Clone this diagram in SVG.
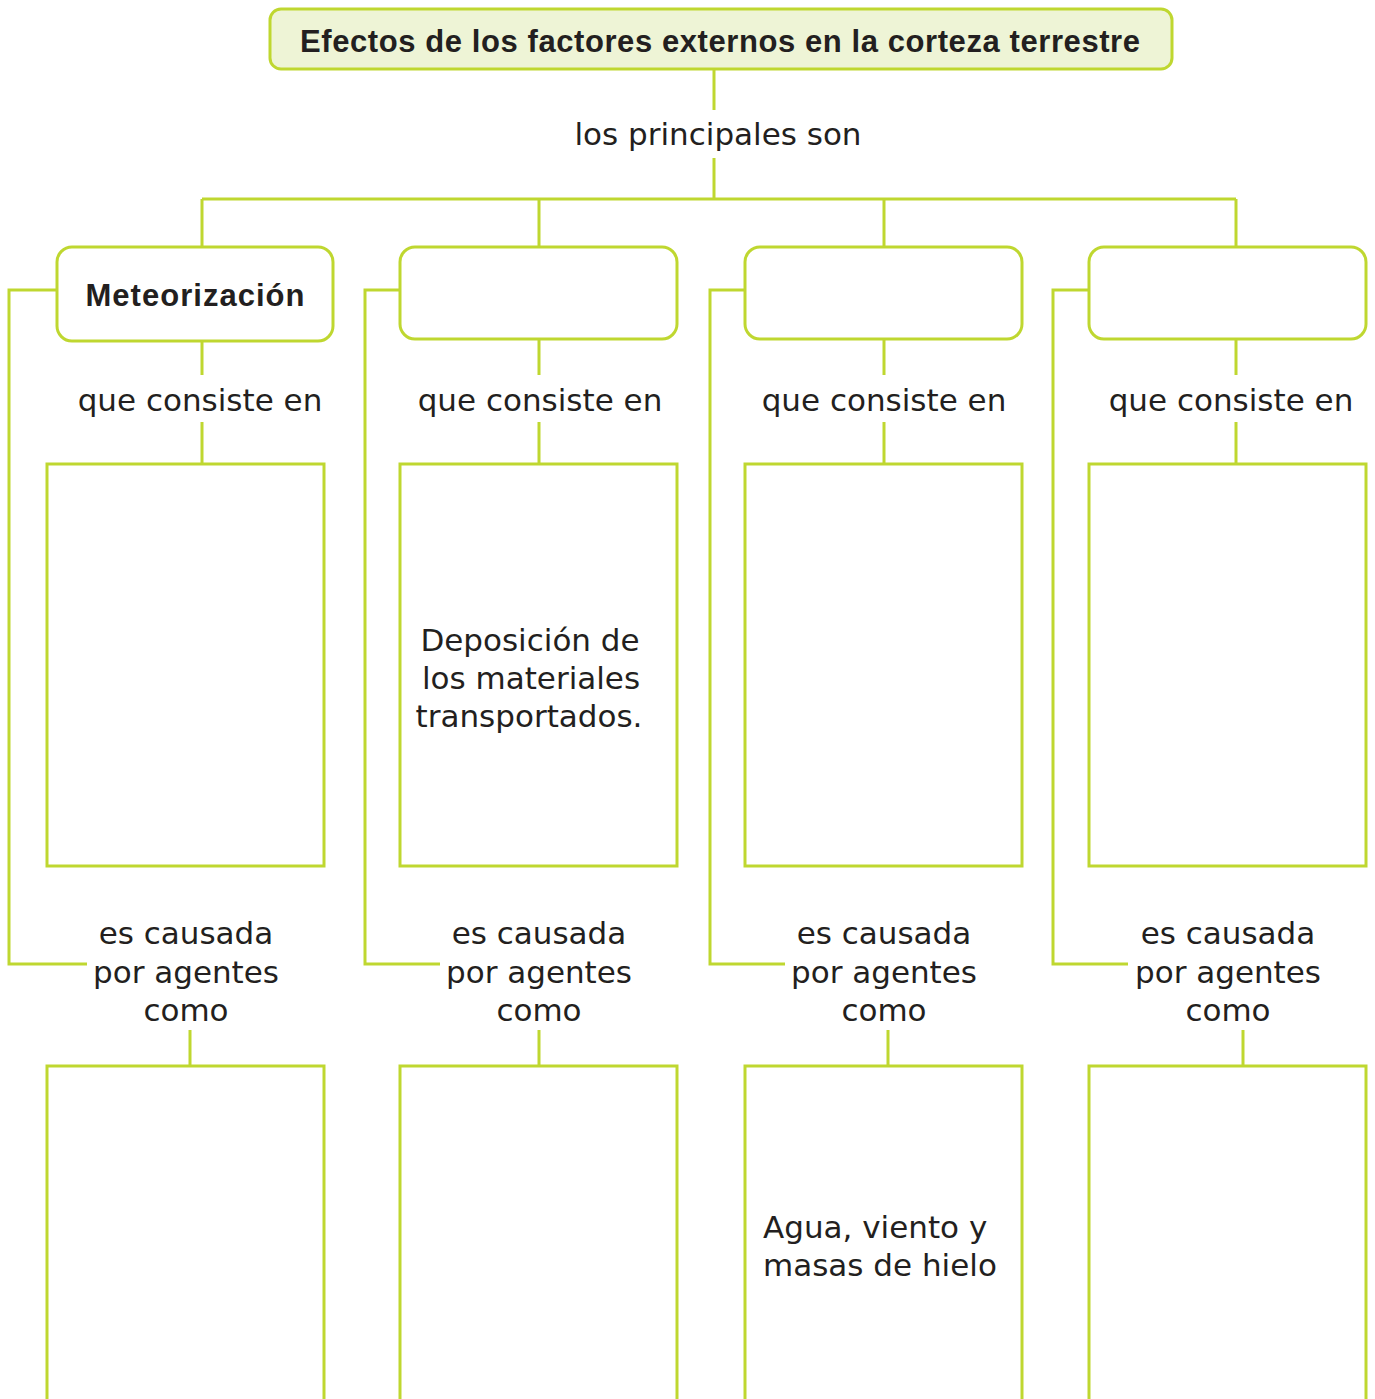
<svg xmlns="http://www.w3.org/2000/svg" width="1375" height="1399" viewBox="0 0 1375 1399">
<style>
.ln{fill:none;stroke:#bfd730;stroke-width:3}
.bx{fill:#ffffff;stroke:#bfd730;stroke-width:3}
.tb{fill:#eef4d6;stroke:#bfd730;stroke-width:3}
.t{font-family:"DejaVu Sans","Noto Sans",sans-serif;font-size:31px;fill:#231f20;text-anchor:middle}
.tl{font-family:"DejaVu Sans","Noto Sans",sans-serif;font-size:31px;fill:#231f20}
.b{font-family:"Liberation Sans",Arial,sans-serif;font-weight:bold;font-size:31px;fill:#231f20;text-anchor:middle}
</style>
<rect width="1375" height="1399" fill="#ffffff"/>
<g id="connectors">
<path class="ln" d="M714 69V110M714 158V199M202 199H1236M202 199V247M539 199V247M884 199V247M1236 199V247"/>
<path class="ln" d="M202 341V375M202 422V464M539 339V375M539 422V464M884 339V375M884 422V464M1236 339V375M1236 422V464"/>
<path class="ln" d="M57 290H9V964H87M400 290H365V964H440M745 290H710V964H785M1089 290H1053V964H1128"/>
<path class="ln" d="M190 1030V1066M539 1030V1066M888 1030V1066M1243 1030V1066"/>
</g>
<g id="title"><rect class="tb" x="270" y="9" width="902" height="60" rx="11"/><text class="b" x="720" y="52" font-size="32" textLength="840" lengthAdjust="spacing">Efectos de los factores externos en la corteza terrestre</text></g>
<g id="label-principales"><text class="t" x="718" y="145">los principales son</text></g>
<g id="n1"><rect class="bx" x="57" y="247" width="276" height="94" rx="15"/><text class="b" x="195" y="306" textLength="219" lengthAdjust="spacing">Meteorización</text></g>
<g id="n2"><rect class="bx" x="400" y="247" width="277" height="92" rx="15"/></g>
<g id="n3"><rect class="bx" x="745" y="247" width="277" height="92" rx="15"/></g>
<g id="n4"><rect class="bx" x="1089" y="247" width="277" height="92" rx="15"/></g>
<g id="labels-consiste">
<text class="t" x="200" y="411">que consiste en</text>
<text class="t" x="540" y="411">que consiste en</text>
<text class="t" x="884" y="411">que consiste en</text>
<text class="t" x="1231" y="411">que consiste en</text>
</g>
<g id="c1"><rect class="bx" x="47" y="464" width="277" height="402"/></g>
<g id="c2"><rect class="bx" x="400" y="464" width="277" height="402"/><text class="t" x="530" y="651">Deposición de</text><text class="t" x="531" y="689">los materiales</text><text class="t" x="529" y="727">transportados.</text></g>
<g id="c3"><rect class="bx" x="745" y="464" width="277" height="402"/></g>
<g id="c4"><rect class="bx" x="1089" y="464" width="277" height="402"/></g>
<g id="labels-causada">
<text class="t" x="186" y="944">es causada</text><text class="t" x="186" y="983">por agentes</text><text class="t" x="186" y="1021">como</text>
<text class="t" x="539" y="944">es causada</text><text class="t" x="539" y="983">por agentes</text><text class="t" x="539" y="1021">como</text>
<text class="t" x="884" y="944">es causada</text><text class="t" x="884" y="983">por agentes</text><text class="t" x="884" y="1021">como</text>
<text class="t" x="1228" y="944">es causada</text><text class="t" x="1228" y="983">por agentes</text><text class="t" x="1228" y="1021">como</text>
</g>
<g id="a1"><rect class="bx" x="47" y="1066" width="277" height="345"/></g>
<g id="a2"><rect class="bx" x="400" y="1066" width="277" height="345"/></g>
<g id="a3"><rect class="bx" x="745" y="1066" width="277" height="345"/><text class="tl" x="763" y="1238">Agua, viento y</text><text class="tl" x="763" y="1276">masas de hielo</text></g>
<g id="a4"><rect class="bx" x="1089" y="1066" width="277" height="345"/></g>
</svg>
